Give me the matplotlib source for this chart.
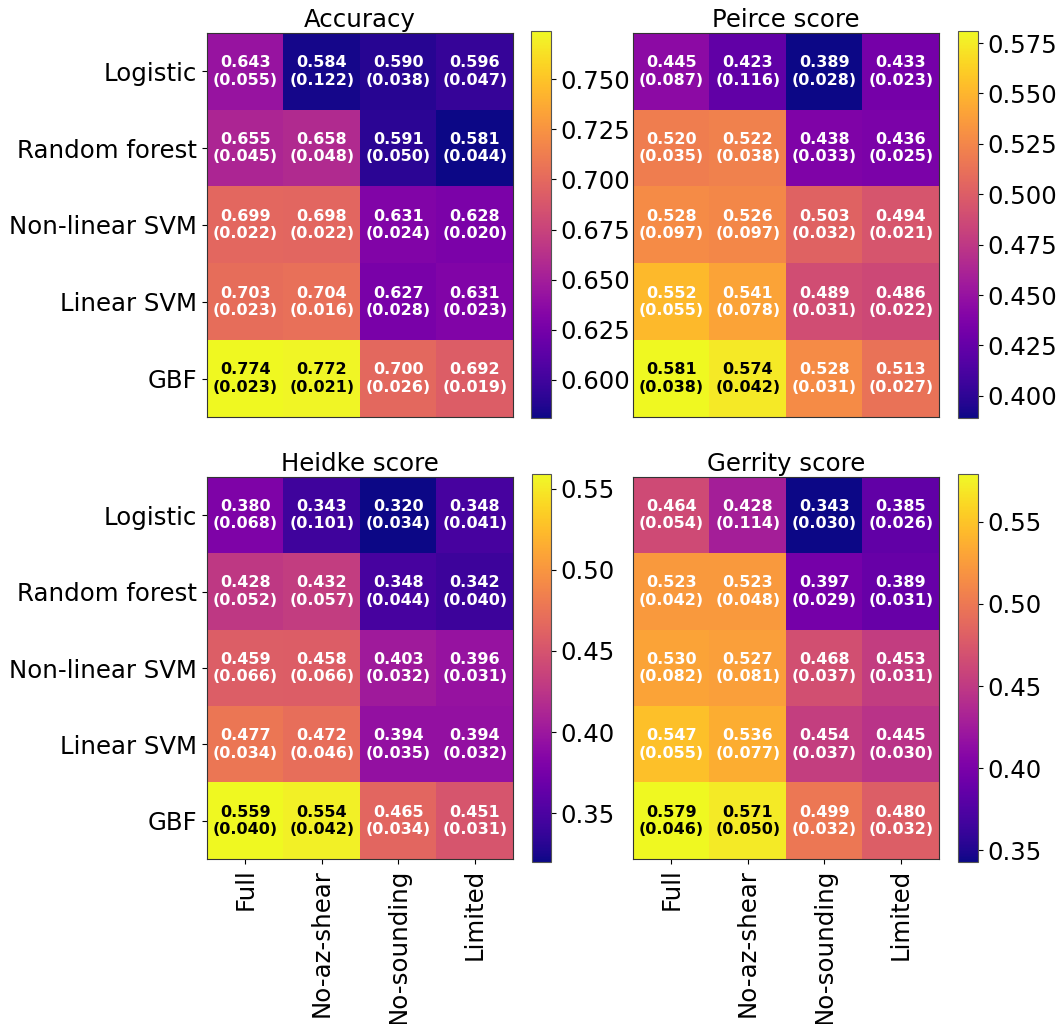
import numpy as np
import matplotlib
matplotlib.use("Agg")
import matplotlib.pyplot as plt

models = ["Logistic", "Random forest", "Non-linear SVM", "Linear SVM", "GBF"]
feature_sets = ["Full", "No-az-shear", "No-sounding", "Limited"]

accuracy_mean = [[0.643, 0.584, 0.590, 0.596],
                 [0.655, 0.658, 0.591, 0.581],
                 [0.699, 0.698, 0.631, 0.628],
                 [0.703, 0.704, 0.627, 0.631],
                 [0.774, 0.772, 0.700, 0.692]]
accuracy_std = [[0.055, 0.122, 0.038, 0.047],
                [0.045, 0.048, 0.050, 0.044],
                [0.022, 0.022, 0.024, 0.020],
                [0.023, 0.016, 0.028, 0.023],
                [0.023, 0.021, 0.026, 0.019]]

peirce_mean = [[0.445, 0.423, 0.389, 0.433],
               [0.520, 0.522, 0.438, 0.436],
               [0.528, 0.526, 0.503, 0.494],
               [0.552, 0.541, 0.489, 0.486],
               [0.581, 0.574, 0.528, 0.513]]
peirce_std = [[0.087, 0.116, 0.028, 0.023],
              [0.035, 0.038, 0.033, 0.025],
              [0.097, 0.097, 0.032, 0.021],
              [0.055, 0.078, 0.031, 0.022],
              [0.038, 0.042, 0.031, 0.027]]

heidke_mean = [[0.380, 0.343, 0.320, 0.348],
               [0.428, 0.432, 0.348, 0.342],
               [0.459, 0.458, 0.403, 0.396],
               [0.477, 0.472, 0.394, 0.394],
               [0.559, 0.554, 0.465, 0.451]]
heidke_std = [[0.068, 0.101, 0.034, 0.041],
              [0.052, 0.057, 0.044, 0.040],
              [0.066, 0.066, 0.032, 0.031],
              [0.034, 0.046, 0.035, 0.032],
              [0.040, 0.042, 0.034, 0.031]]

gerrity_mean = [[0.464, 0.428, 0.343, 0.385],
                [0.523, 0.523, 0.397, 0.389],
                [0.530, 0.527, 0.468, 0.453],
                [0.547, 0.536, 0.454, 0.445],
                [0.579, 0.571, 0.499, 0.480]]
gerrity_std = [[0.054, 0.114, 0.030, 0.026],
               [0.042, 0.048, 0.029, 0.031],
               [0.082, 0.081, 0.037, 0.031],
               [0.055, 0.077, 0.037, 0.030],
               [0.046, 0.050, 0.032, 0.032]]

panels = [
    ("Accuracy", accuracy_mean, accuracy_std, [0.600, 0.625, 0.650, 0.675, 0.700, 0.725, 0.750], "{:.3f}"),
    ("Peirce score", peirce_mean, peirce_std, [0.400, 0.425, 0.450, 0.475, 0.500, 0.525, 0.550, 0.575], "{:.3f}"),
    ("Heidke score", heidke_mean, heidke_std, [0.35, 0.40, 0.45, 0.50, 0.55], "{:.2f}"),
    ("Gerrity score", gerrity_mean, gerrity_std, [0.35, 0.40, 0.45, 0.50, 0.55], "{:.2f}"),
]

W, H = 1061, 1024
fig = plt.figure(figsize=(W / 100, H / 100), dpi=100)


def box(x0, y0, x1, y1):
    return [x0 / W, 1 - y1 / H, (x1 - x0) / W, (y1 - y0) / H]


heat_boxes = [box(207, 33, 513, 417), box(633, 33, 939, 417),
              box(207, 477, 513, 859), box(633, 477, 939, 859)]
cbar_boxes = [box(531, 31, 551, 418), box(958, 31, 978, 418),
              box(532, 474, 551, 862), box(958, 474, 978, 862)]

fs = 17.6
for i, (title, mean, std, ticks, fmt) in enumerate(panels):
    mean = np.array(mean)
    std = np.array(std)
    ax = fig.add_axes(heat_boxes[i])
    vmin, vmax = mean.min(), mean.max()
    im = ax.imshow(mean, cmap="plasma", vmin=vmin, vmax=vmax, aspect="auto")
    ax.set_title(title, fontsize=fs, pad=4)
    for r in range(mean.shape[0]):
        for c in range(mean.shape[1]):
            frac = (mean[r, c] - vmin) / (vmax - vmin)
            color = "black" if frac > 0.9 else "white"
            ax.text(c, r, f"{mean[r, c]:.3f}\n({std[r, c]:.3f})", ha="center", va="center",
                    color=color, fontsize=11.5, fontweight="bold", linespacing=1.2)
    if i % 2 == 0:
        ax.set_yticks(range(len(models)))
        ax.set_yticklabels(models, fontsize=fs)
    else:
        ax.set_yticks([])
    if i >= 2:
        ax.set_xticks(range(len(feature_sets)))
        ax.set_xticklabels(feature_sets, fontsize=fs, rotation=90)
    else:
        ax.set_xticks([])
    for sp in ax.spines.values():
        sp.set_linewidth(0.8)
        sp.set_color("#333333")

    cax = fig.add_axes(cbar_boxes[i])
    cb = fig.colorbar(im, cax=cax, ticks=ticks)
    cb.ax.set_yticklabels([fmt.format(t) for t in ticks])
    cb.ax.tick_params(labelsize=fs)
    cb.outline.set_linewidth(0.8)
    cb.outline.set_edgecolor("#555555")

fig.savefig("out.png", dpi=100)
